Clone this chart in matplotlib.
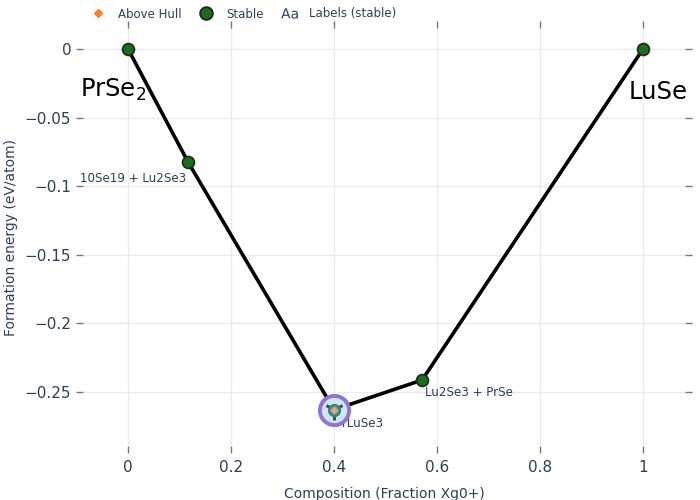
import matplotlib.pyplot as plt
from matplotlib.lines import Line2D
from matplotlib.transforms import Bbox, TransformedBbox

# hull points (stable phases)
comp = [0.0, 0.1165, 0.4, 0.571, 1.0]
energy = [0.0, -0.0824, -0.263, -0.2413, 0.0]
labels = ['', 'Pr10Se19 + Lu2Se3', 'PrLuSe3', 'Lu2Se3 + PrSe', '']

# highlighted phase
sel_x = [0.4]
sel_y = [-0.263]

end_names = ['PrSe$_2$', 'LuSe']
end_x = [0.0, 1.0]

yticks = [0, -0.05, -0.1, -0.15, -0.2, -0.25]
ytick_labels = ['0', '\u22120.05', '\u22120.1', '\u22120.15', '\u22120.2', '\u22120.25']
xticks = [0, 0.2, 0.4, 0.6, 0.8, 1.0]
xtick_labels = ['0', '0.2', '0.4', '0.6', '0.8', '1']

txt = '#2a3f5f'
plt.rcParams['font.family'] = ['DejaVu Sans']

fig = plt.figure(figsize=(7, 5), dpi=100)
ax = fig.add_axes([0.1186, 0.108, 0.86, 0.836])

ax.plot(comp, energy, color='black', lw=2.6, zorder=2)
ax.plot(comp, energy, 'o', ms=8.5, color='#1b6e1b', mec='#1f2f1f', mew=1.3,
        zorder=3, ls='none')

# highlight ring + overlays
ax.plot(sel_x, sel_y, 'o', ms=21, mfc='#cfe8f8', mec='#9370db', mew=2.8, zorder=4)
ax.plot(sel_x, sel_y, '1', ms=15, color='#2f5260', mew=2.2, zorder=5)
ax.plot(sel_x, sel_y, 'o', ms=8, mfc='#6e8f7a', mec='#3d7f7f', mew=1.5, zorder=6)
ax.plot(sel_x, sel_y, 'D', ms=4, mfc='#e0a48c', mec='none', zorder=7)

# clip region for the point labels
clip = TransformedBbox(Bbox([[81 / 700, 0], [1, 1]]), fig.transFigure)

offsets = {1: (-1, -7, 'right', 'top'), 2: (1, -5, 'left', 'top'), 3: (2, -4, 'left', 'top')}
for i, lab in enumerate(labels):
    if not lab:
        continue
    dx, dy, ha, va = offsets[i]
    t = ax.annotate(lab, (comp[i], energy[i]), xytext=(dx, dy), textcoords='offset points',
                    ha=ha, va=va, fontsize=8.6, color=txt, zorder=3, annotation_clip=False)
    t.set_clip_box(clip)
    t.set_clip_on(True)

ax.annotate(end_names[0], (end_x[0], 0), xytext=(13, -20), textcoords='offset points',
            ha='right', va='top', fontsize=17.5, color='black')
ax.annotate(end_names[1], (end_x[1], 0), xytext=(-10, -22), textcoords='offset points',
            ha='left', va='top', fontsize=17.5, color='black')

ax.set_xlim(-0.0874, 1.0816)
ax.set_ylim(-0.2894, 0.0153)
ax.set_xticks(xticks)
ax.set_xticklabels(xtick_labels)
ax.set_yticks(yticks)
ax.set_yticklabels(ytick_labels)
ax.grid(True, color='#ebebeb', lw=1)
ax.set_axisbelow(True)
for s in ax.spines.values():
    s.set_visible(False)
ax.tick_params(axis='both', which='both', direction='out', length=5, width=1,
               color='#777777', labelcolor=txt, labelsize=11,
               top=True, right=True, labeltop=False, labelright=False)
ax.tick_params(axis='x', pad=5)

ax.set_xlabel('Composition (Fraction Xg0+)', fontsize=10, color=txt, labelpad=9)
ax.set_ylabel('Formation energy (eV/atom)', fontsize=10, color=txt, labelpad=5)

handles = [
    Line2D([], [], marker='D', ms=4, color='#ff7f2a', ls='none'),
    Line2D([], [], marker='o', ms=9, mfc='#1b6e1b', mec='#1f2f1f', mew=1.5, ls='none'),
    Line2D([], [], marker='$\\mathrm{Aa}$', ms=12, mew=0, color=txt, ls='none'),
]
fig.legend(handles, ['Above Hull', 'Stable', 'Labels (stable)'], loc='center left',
           bbox_to_anchor=(0.116, 0.972), ncol=3, frameon=False, fontsize=8.5,
           labelcolor=txt, handlelength=1.0, handletextpad=1.2, columnspacing=1.6)

fig.savefig('out.png', dpi=100)
